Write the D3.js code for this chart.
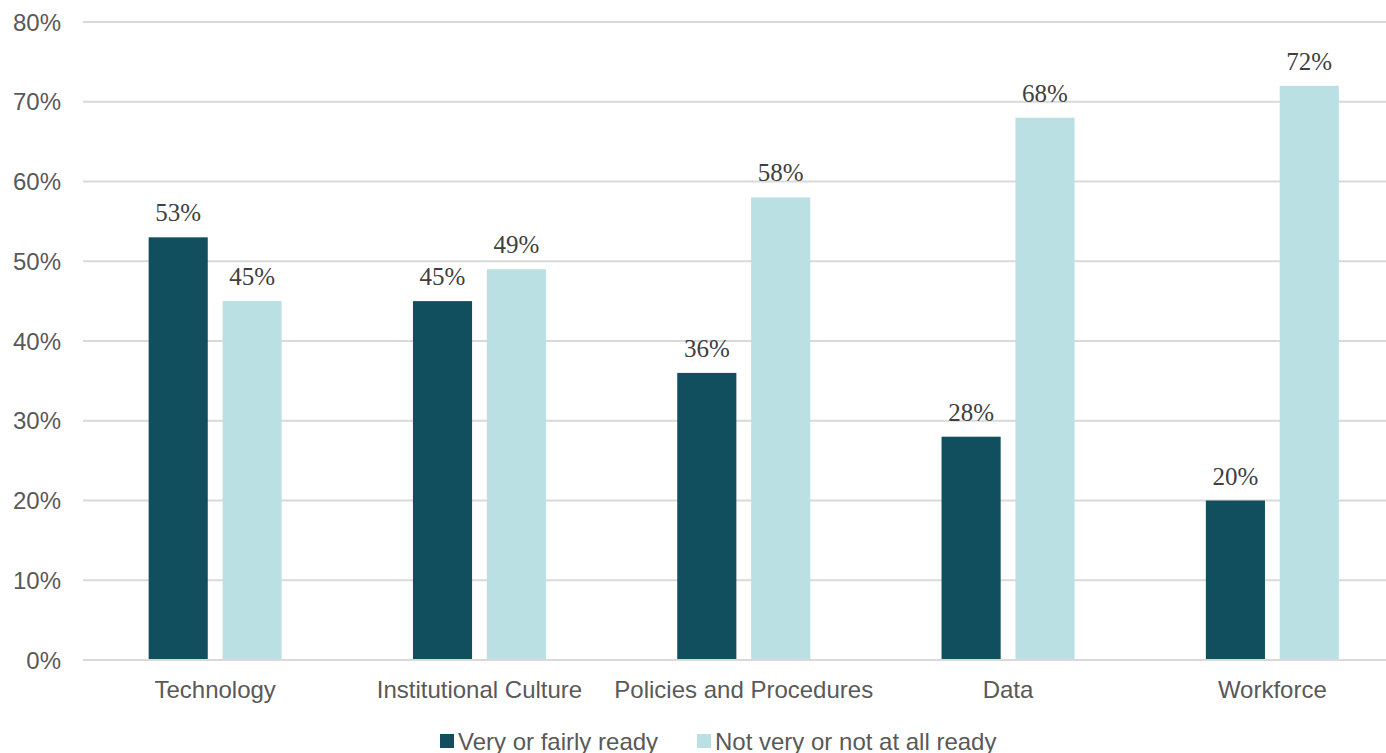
<!DOCTYPE html>
<html lang="en">
<head>
  <meta charset="UTF-8">
  <title>Readiness by Area</title>
  <script src="https://d3js.org/d3.v7.min.js"></script>
  <style>
    body {
      margin: 0;
      background-color: #fff;
      overflow: hidden;
    }
    .tick-label {
      font-family: "Liberation Sans", Arial, sans-serif;
      fill: #595959;
    }
    .value-label {
      font-family: "Liberation Serif", Cambria, serif;
      fill: #404040;
    }
  </style>
</head>
<body>
<div id="chart"></div>

<script>
  // Chart data
  const categories = ["Technology", "Institutional Culture", "Policies and Procedures", "Data", "Workforce"];
  const seriesNames = ["Very or fairly ready", "Not very or not at all ready"];
  const readyValues = [53, 45, 36, 28, 20];
  const notReadyValues = [45, 49, 58, 68, 72];
  const yTicks = [0, 10, 20, 30, 40, 50, 60, 70, 80];

  const colors = {
    "Very or fairly ready": "#114e5e",
    "Not very or not at all ready": "#bae0e3"
  };

  const width = 1386;
  const height = 753;

  const svg = d3.select("#chart")
    .append("svg")
    .attr("width", width)
    .attr("height", height);

  // Scales
  const x = d3.scaleBand()
    .domain(categories)
    .range([83, 1404.5])
    .paddingInner(0)
    .paddingOuter(0);

  const xInner = d3.scaleBand()
    .domain(seriesNames)
    .range([-66.5, 66.5])
    .paddingInner(0.2);

  const y = d3.scaleLinear()
    .domain([0, 80])
    .range([660, 22]);

  // Gridlines
  svg.append("g")
    .selectAll("line")
    .data(yTicks)
    .enter().append("line")
    .attr("x1", 83)
    .attr("x2", width)
    .attr("y1", d => y(d))
    .attr("y2", d => y(d))
    .style("stroke", "#d9d9d9")
    .style("stroke-width", 2);

  // Y tick labels
  svg.append("g")
    .selectAll("text")
    .data(yTicks)
    .enter().append("text")
    .attr("class", "tick-label")
    .attr("x", 61)
    .attr("y", d => y(d))
    .attr("dy", "0.36em")
    .attr("text-anchor", "end")
    .style("font-size", "24px")
    .text(d => d + "%");

  // Build rows from arrays
  const rows = categories.map((c, i) => ({
    category: c,
    values: [
      { series: seriesNames[0], value: readyValues[i] },
      { series: seriesNames[1], value: notReadyValues[i] }
    ]
  }));

  const groups = svg.append("g")
    .selectAll("g")
    .data(rows)
    .enter().append("g")
    .attr("transform", d => `translate(${x(d.category) + x.bandwidth() / 2},0)`);

  groups.selectAll("rect")
    .data(d => d.values)
    .enter().append("rect")
    .attr("x", d => xInner(d.series))
    .attr("y", d => y(d.value))
    .attr("width", xInner.bandwidth())
    .attr("height", d => y(0) - y(d.value) - 1)
    .style("fill", d => colors[d.series]);

  groups.selectAll("text.value-label")
    .data(d => d.values)
    .enter().append("text")
    .attr("class", "value-label")
    .attr("x", d => xInner(d.series) + xInner.bandwidth() / 2)
    .attr("y", d => y(d.value) - 16)
    .attr("text-anchor", "middle")
    .style("font-size", "25px")
    .text(d => d.value + "%");

  // Category labels
  svg.append("g")
    .selectAll("text")
    .data(categories)
    .enter().append("text")
    .attr("class", "tick-label")
    .attr("x", d => x(d) + x.bandwidth() / 2)
    .attr("y", 698)
    .attr("text-anchor", "middle")
    .style("font-size", "24px")
    .text(d => d);

  // Legend
  const legendPos = [440, 697];
  const legend = svg.append("g")
    .selectAll("g")
    .data(seriesNames)
    .enter().append("g")
    .attr("transform", (d, i) => `translate(${legendPos[i]},734)`);

  legend.append("rect")
    .attr("width", 14)
    .attr("height", 14)
    .style("fill", d => colors[d]);

  legend.append("text")
    .attr("class", "tick-label")
    .attr("x", 18)
    .attr("y", 7)
    .attr("dy", "0.36em")
    .style("font-size", "24px")
    .text(d => d);
</script>
</body>
</html>
